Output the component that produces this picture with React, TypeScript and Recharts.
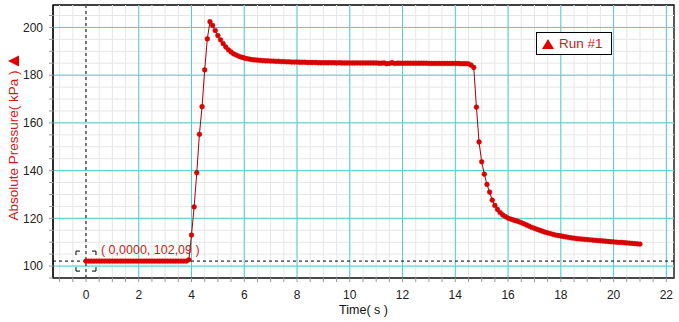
import { LineChart, Line, XAxis, YAxis, ReferenceLine, ReferenceArea, ReferenceDot, Legend } from 'recharts'

// sampled every 0.1 s, starting at t = 0
const SAMPLE_STEP = 0.1

// Absolute pressure (kPa), one row per second
const pressure = [
  102.09, 102.09, 102.09, 102.09, 102.09, 102.09, 102.09, 102.09, 102.09, 102.09,
  102.09, 102.09, 102.09, 102.09, 102.09, 102.09, 102.09, 102.09, 102.09, 102.09,
  102.09, 102.09, 102.09, 102.09, 102.09, 102.09, 102.09, 102.09, 102.09, 102.09,
  102.09, 102.09, 102.09, 102.09, 102.09, 102.09, 102.09, 102.09, 102.09, 102.6,
  113.0, 124.8, 139.1, 155.2, 166.8, 182.2, 195.2, 202.4, 200.8, 198.7,
  196.6, 194.8, 193.2, 191.8, 190.6, 189.7, 188.9, 188.4, 187.9, 187.5,
  187.2, 186.9, 186.7, 186.5, 186.4, 186.3, 186.2, 186.1, 186.0, 186.0,
  185.9, 185.9, 185.8, 185.8, 185.7, 185.7, 185.6, 185.6, 185.5, 185.5,
  185.5, 185.4, 185.4, 185.4, 185.3, 185.3, 185.3, 185.3, 185.2, 185.2,
  185.2, 185.2, 185.2, 185.2, 185.2, 185.1, 185.2, 185.1, 185.1, 185.1,
  185.1, 185.1, 185.1, 185.1, 185.1, 185.1, 185.1, 185.1, 185.1, 185.1,
  185.1, 185.0, 185.0, 185.1, 184.8, 184.9, 185.2, 184.9, 185.0, 185.0,
  185.0, 185.0, 185.0, 185.0, 185.0, 185.0, 185.0, 185.0, 185.0, 185.0,
  184.9, 184.9, 184.9, 184.9, 184.9, 184.9, 184.9, 184.9, 184.9, 184.9,
  184.9, 184.9, 184.8, 184.8, 184.8, 184.7, 184.2, 183.2, 166.6, 152.0,
  143.7, 138.5, 134.2, 131.0, 127.6, 125.4, 123.7, 122.4, 121.4, 120.7,
  120.1, 119.7, 119.3, 119.0, 118.6, 118.2, 117.7, 117.2, 116.7, 116.2,
  115.8, 115.4, 115.0, 114.6, 114.2, 113.9, 113.6, 113.3, 113.0, 112.8,
  112.6, 112.4, 112.2, 112.0, 111.8, 111.7, 111.5, 111.4, 111.3, 111.2,
  111.1, 111.0, 110.9, 110.8, 110.7, 110.6, 110.5, 110.4, 110.3, 110.2,
  110.1, 110.0, 109.9, 109.9, 109.8, 109.7, 109.6, 109.5, 109.4, 109.3,
  109.2,
]

const xMajorTicks = [0, 2, 4, 6, 8, 10, 12, 14, 16, 18, 20, 22]
const yMajorTicks = [100, 120, 140, 160, 180, 200]
const xDomain = [-1.25, 22.29]
const yDomain = [95, 209.4]

const cursorTime = 0
const cursorPressure = 102.09
const cursorLabel = '( 0,0000, 102,09 )'
const runName = 'Run #1'

// minor grid every 0.5 s and 5 kPa
const xMinorTicks: number[] = []
for (let v = -1; v <= 22; v += 0.5) xMinorTicks.push(v)
const yMinorTicks: number[] = []
for (let v = 95; v <= 205; v += 5) yMinorTicks.push(v)

const data = pressure.map((p, i) => ({ time: Math.round(i * SAMPLE_STEP * 10) / 10, pressure: p }))

const FONT = '"Liberation Sans", Arial, sans-serif'
const RED = '#d80000'
const LABEL_RED = '#d01818'

function CursorMark(props: any) {
  const { cx, cy } = props
  const s = 10
  const a = 4
  const d = [
    `M${cx - s},${cy - s + a}V${cy - s}H${cx - s + a}`,
    `M${cx + s - a},${cy - s}H${cx + s}V${cy - s + a}`,
    `M${cx - s},${cy + s - a}V${cy + s}H${cx - s + a}`,
    `M${cx + s - a},${cy + s}H${cx + s}V${cy + s - a}`,
  ].join('')
  return (
    <g>
      <path d={d} stroke="#000" strokeWidth={1} fill="none" />
      <text x={cx + 15} y={cy - 7} fill={LABEL_RED} fontSize={12.5} fontFamily={FONT}>
        {cursorLabel}
      </text>
    </g>
  )
}

function YLabel(props: any) {
  const { viewBox } = props
  const x = viewBox.x + 18
  const cy = viewBox.y + viewBox.height / 2 + 4
  return (
    <g>
      <text
        x={x}
        y={cy}
        transform={`rotate(-90, ${x}, ${cy})`}
        textAnchor="middle"
        fill={LABEL_RED}
        fontSize={13.5}
        fontFamily={FONT}
      >
        Absolute Pressure( kPa )
      </text>
      <path d={`M8,61L19,55.5L19,66.5Z`} fill="#e00000" />
    </g>
  )
}

function RunLegend() {
  return (
    <div
      style={{
        width: 74,
        height: 21,
        border: '1px solid #000',
        background: '#fff',
        display: 'flex',
        alignItems: 'center',
        fontFamily: FONT,
        fontSize: 13.5,
        color: LABEL_RED,
      }}
    >
      <svg width={12} height={10} style={{ marginLeft: 5, marginRight: 5 }}>
        <path d="M6,0L12,10L0,10Z" fill="#e00000" />
      </svg>
      {runName}
    </div>
  )
}

export default function App() {
  return (
    <div style={{ position: 'absolute', left: 0, top: 0, background: '#fff' }}>
      <LineChart width={679} height={322} data={data} margin={{ top: 5, right: 5, left: 0, bottom: 0 }}>
        <XAxis
          type="number"
          dataKey="time"
          domain={xDomain}
          ticks={xMinorTicks}
          allowDataOverflow
          interval={0}
          tickFormatter={(v: number) => (xMajorTicks.includes(v) ? String(v) : '')}
          tick={{ fill: '#222', fontSize: 12, fontFamily: FONT }}
          tickLine={{ stroke: '#999' }}
          tickSize={4}
          tickMargin={8}
          axisLine={{ stroke: '#000' }}
          height={44}
          label={{ value: 'Time( s )', position: 'insideBottom', offset: 8, fill: '#111', fontSize: 12.5, fontFamily: FONT }}
        />
        <YAxis
          type="number"
          domain={yDomain}
          ticks={yMinorTicks}
          allowDataOverflow
          interval={0}
          tickFormatter={(v: number) => (yMajorTicks.includes(v) ? String(v) : '')}
          tick={{ fill: '#222', fontSize: 12, fontFamily: FONT }}
          tickLine={{ stroke: '#999' }}
          tickSize={4}
          tickMargin={6}
          axisLine={{ stroke: '#000' }}
          width={53}
          label={{ content: YLabel }}
        />
        {xMinorTicks.map((v) => (
          <ReferenceLine key={`xm${v}`} x={v} stroke="#e6e6e6" strokeWidth={1} />
        ))}
        {yMinorTicks.map((v) => (
          <ReferenceLine key={`ym${v}`} y={v} stroke="#e6e6e6" strokeWidth={1} />
        ))}
        {xMajorTicks
          .filter((v) => v !== cursorTime)
          .map((v) => (
            <ReferenceLine key={`xM${v}`} x={v} stroke="#4fcfcf" strokeWidth={1} />
          ))}
        {yMajorTicks.map((v) => (
          <ReferenceLine key={`yM${v}`} y={v} stroke="#4fcfcf" strokeWidth={1} />
        ))}
        <ReferenceArea x1={xDomain[0]} x2={xDomain[1]} y1={yDomain[0]} y2={yDomain[1]} fill="none" fillOpacity={0} stroke="#000" strokeWidth={1.3} />
        <ReferenceLine y={cursorPressure} stroke="#000" strokeDasharray="3 3" />
        <ReferenceLine x={cursorTime} stroke="#000" strokeDasharray="3 3" />
        <Line
          type="linear"
          dataKey="pressure"
          stroke="#a80000"
          strokeWidth={1}
          dot={{ r: 2.4, fill: RED, stroke: RED, strokeWidth: 0.5 }}
          activeDot={false}
          isAnimationActive={false}
        />
        <ReferenceDot x={cursorTime} y={cursorPressure} shape={CursorMark} />
        <Legend
          layout="horizontal"
          verticalAlign="middle"
          align="center"
          content={RunLegend}
          wrapperStyle={{ position: 'absolute', left: 536, top: 32, width: 'auto', height: 'auto' }}
        />
      </LineChart>
    </div>
  )
}
